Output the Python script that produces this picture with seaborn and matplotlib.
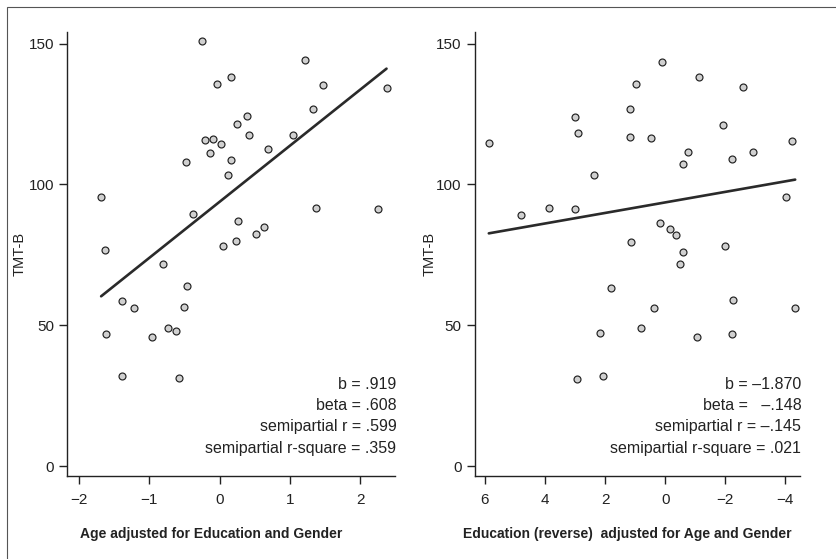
import matplotlib
matplotlib.use("Agg")
import matplotlib.pyplot as plt
from matplotlib.patches import Rectangle
import seaborn as sns
import pandas as pd
import numpy as np

# left panel: TMT-B vs age (adjusted)
age_adj = [-0.255, 1.21, 0.165, -0.034, 1.475, 2.37, 1.33, 0.39, 0.245, 0.416,
           1.04, -0.204, -0.09, 0.028, -0.133, 0.685, -0.482, 0.165, 0.122, -1.68,
           1.37, 2.255, -0.374, 0.264, 0.633, 0.515, 0.227, 0.043, -1.63, -0.80,
           -0.46, -1.386, -1.22, -0.506, -1.615, -0.956, -0.738, -0.615, -1.386, -0.577]
tmt_left = [151.0, 144.0, 138.2, 135.6, 135.4, 134.3, 126.9, 124.2, 121.3, 117.6,
            117.4, 115.6, 116.1, 114.4, 111.1, 112.6, 107.8, 108.7, 103.3, 95.5,
            91.7, 91.3, 89.6, 86.9, 84.8, 82.3, 79.9, 78.0, 76.6, 71.9,
            63.8, 58.5, 56.3, 56.6, 46.9, 45.8, 48.9, 48.0, 32.1, 31.2]

# right panel: TMT-B vs education (reverse, adjusted)
edu_adj = [5.87, 0.11, -1.12, 0.96, -2.59, 1.18, 2.99, 2.91, 1.18, 0.47,
           -1.94, -4.23, -0.77, -2.91, -0.59, -2.22, 2.37, -4.01, 4.79, 3.86,
           2.99, 0.17, -0.17, -0.37, 1.15, -2.0, -0.58, -0.48, 1.81, -2.25,
           0.37, -4.33, 0.81, 2.16, -1.07, -2.21, 2.94, 2.07]
tmt_right = [114.6, 143.5, 138.2, 135.5, 134.5, 126.8, 123.9, 118.2, 116.8, 116.5,
             121.2, 115.3, 111.6, 111.4, 107.3, 109.0, 103.5, 95.4, 89.3, 91.7,
             91.3, 86.4, 84.2, 81.9, 79.6, 78.0, 76.1, 71.8, 63.4, 59.0,
             56.1, 56.1, 49.0, 47.3, 45.8, 46.8, 30.8, 32.1]

# fitted lines as shown in the plot (intercept, slope)
fit_left = (93.8, 19.95)
fit_right = (93.6, -1.870)

stats_left = ["b = .919", "beta = .608", "semipartial r = .599", "semipartial r-square = .359"]
stats_right = ["b = \u20131.870", "beta =   \u2013.148", "semipartial r = \u2013.145",
               "semipartial r-square = .021"]

sns.set_style("ticks")
plt.rcParams['font.family'] = ['Liberation Sans', 'DejaVu Sans']

fig = plt.figure(figsize=(8.37, 5.59), dpi=100)
ax1 = fig.add_axes([0.0804, 0.1485, 0.3915, 0.7948])
ax2 = fig.add_axes([0.5675, 0.1485, 0.3883, 0.7948])

left_df = pd.DataFrame({'x': age_adj, 'y': tmt_left})
right_df = pd.DataFrame({'x': edu_adj, 'y': tmt_right})

panels = [
    (ax1, left_df, fit_left, "Age adjusted for Education and Gender", stats_left,
     (-2.16, 2.49), [-2, -1, 0, 1, 2], 0.44, -0.125),
    (ax2, right_df, fit_right, "Education (reverse)  adjusted for Age and Gender", stats_right,
     (6.33, -4.49), [6, 4, 2, 0, -2, -4], 0.47, -0.118),
]

for ax, df, fit, xlab, stats, xlim, xt, xlab_pos, ylab_pos in panels:
    line_x = np.array([df['x'].min(), df['x'].max()])
    line_df = pd.DataFrame({'x': line_x, 'y': fit[0] + fit[1] * line_x})
    sns.lineplot(x='x', y='y', data=line_df, ax=ax, color='#2a2a2a', lw=1.9, zorder=1)
    sns.scatterplot(x='x', y='y', data=df, ax=ax, s=25, color='#d0d0d0',
                    edgecolor='#222222', linewidth=0.85, zorder=2)
    ax.set_xlim(*xlim)
    ax.set_ylim(-3.5, 154.2)
    ax.set_xticks(xt)
    ax.set_yticks([0, 50, 100, 150])
    ax.spines['top'].set_visible(False)
    ax.spines['right'].set_visible(False)
    for s in ['left', 'bottom']:
        ax.spines[s].set_color('#222222')
        ax.spines[s].set_linewidth(1.0)
    ax.tick_params(axis='both', length=6, width=1, color='#222222', labelsize=11,
                   colors='#222222')
    ax.tick_params(axis='x', pad=6)
    ax.set_xlabel(xlab, fontsize=10, fontweight='bold', color='#222222')
    ax.set_ylabel("TMT-B", fontsize=10.5, color='#222222')
    ax.xaxis.set_label_coords(xlab_pos, -0.115)
    ax.yaxis.set_label_coords(ylab_pos, 0.5)
    for i, t in enumerate(stats):
        ax.text(1.004, 0.207 - i * 0.0483, t, transform=ax.transAxes, ha='right', va='center',
                fontsize=11.5, color='#222222')

fig.patches.append(Rectangle((0.0088, -0.1), 1.2, 1.088, transform=fig.transFigure,
                             fill=False, edgecolor='#555555', lw=0.8))

plt.savefig("out.png", dpi=100)
